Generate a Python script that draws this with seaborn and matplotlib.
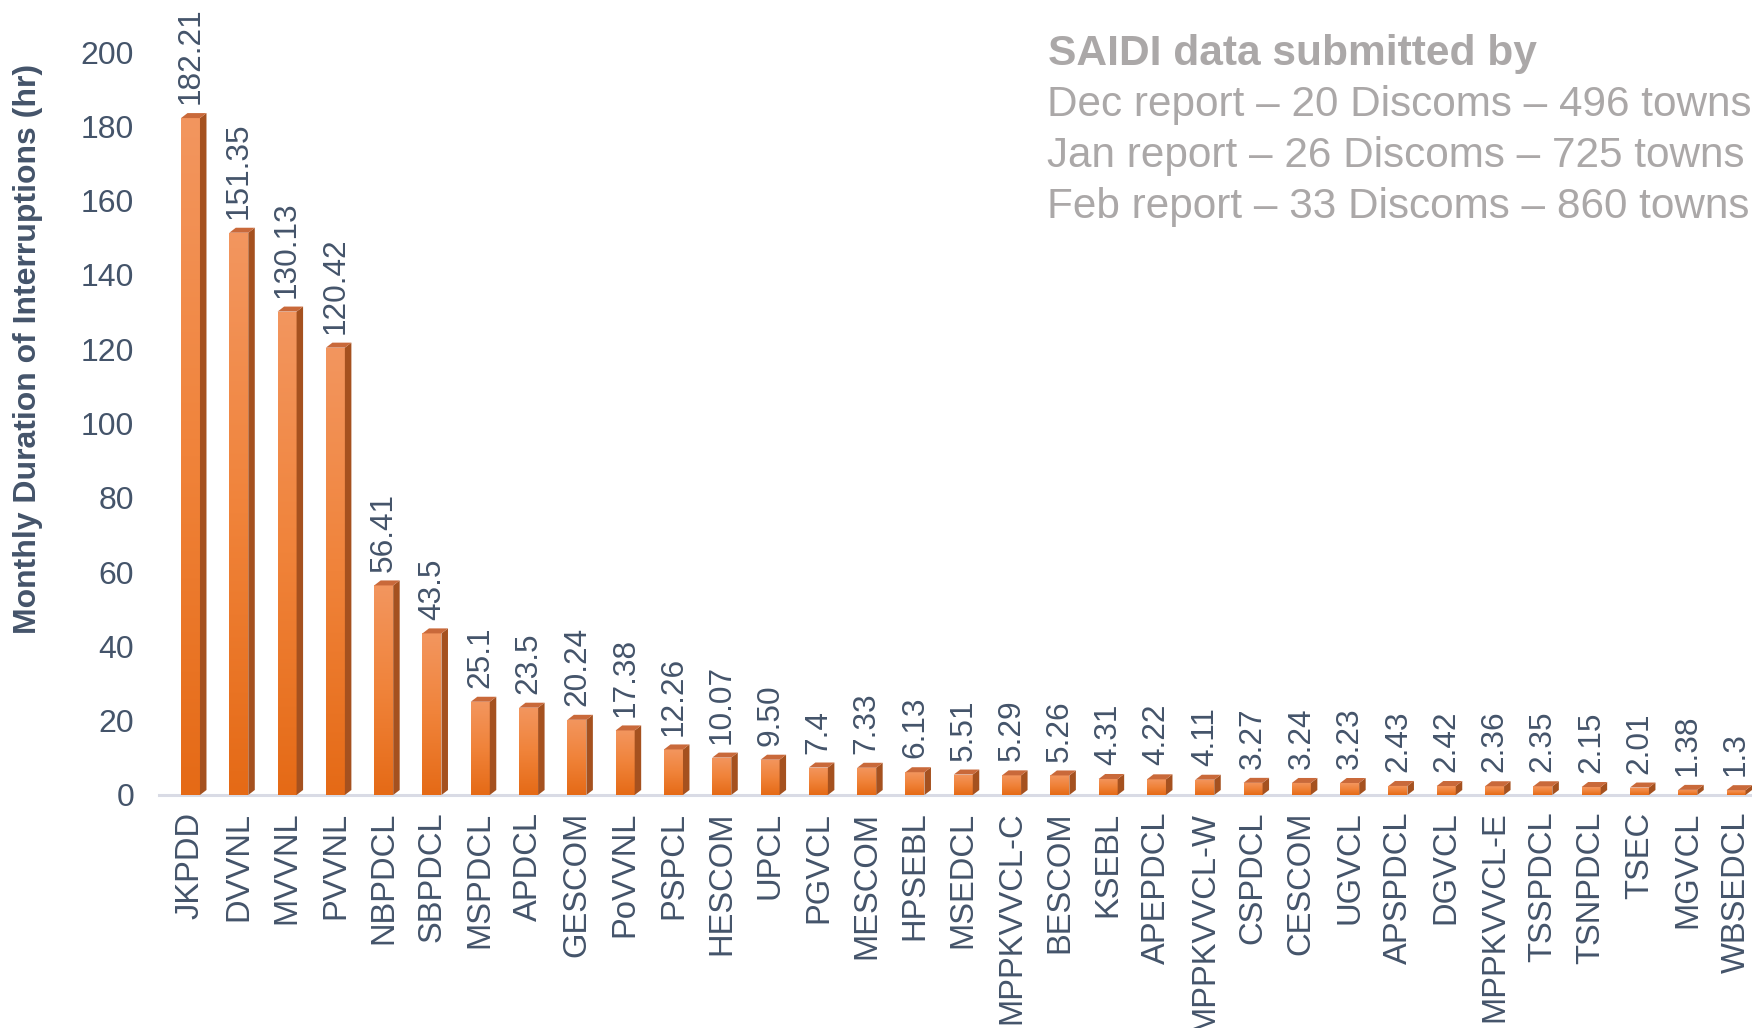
import numpy as np
import pandas as pd
import matplotlib
matplotlib.use("Agg")
import matplotlib.pyplot as plt
import seaborn as sns
from matplotlib.patches import Polygon
from matplotlib.colors import LinearSegmentedColormap

discoms = ["JKPDD", "DVVNL", "MVVNL", "PVVNL", "NBPDCL", "SBPDCL", "MSPDCL", "APDCL",
           "GESCOM", "PoVVNL", "PSPCL", "HESCOM", "UPCL", "PGVCL", "MESCOM", "HPSEBL",
           "MSEDCL", "MPPKVVCL-C", "BESCOM", "KSEBL", "APEPDCL", "MPPKVVCL-W", "CSPDCL",
           "CESCOM", "UGVCL", "APSPDCL", "DGVCL", "MPPKVVCL-E", "TSSPDCL", "TSNPDCL",
           "TSEC", "MGVCL", "WBSEDCL"]
saidi = [182.21, 151.35, 130.13, 120.42, 56.41, 43.5, 25.1, 23.5, 20.24, 17.38, 12.26,
         10.07, 9.50, 7.4, 7.33, 6.13, 5.51, 5.29, 5.26, 4.31, 4.22, 4.11, 3.27, 3.24,
         3.23, 2.43, 2.42, 2.36, 2.35, 2.15, 2.01, 1.38, 1.3]
value_labels = ["182.21", "151.35", "130.13", "120.42", "56.41", "43.5", "25.1", "23.5",
                "20.24", "17.38", "12.26", "10.07", "9.50", "7.4", "7.33", "6.13", "5.51",
                "5.29", "5.26", "4.31", "4.22", "4.11", "3.27", "3.24", "3.23", "2.43",
                "2.42", "2.36", "2.35", "2.15", "2.01", "1.38", "1.3"]
y_ticks = [0, 20, 40, 60, 80, 100, 120, 140, 160, 180, 200]
note_title = "SAIDI data submitted by"
note_lines = ["Dec report \u2013 20 Discoms \u2013 496 towns",
              "Jan report \u2013 26 Discoms \u2013 725 towns",
              "Feb report \u2013 33 Discoms \u2013 860 towns"]

sns.set_theme(style="white")
plt.rcParams['font.family'] = ['Liberation Sans', 'DejaVu Sans']

W, H = 1752, 1028
fig = plt.figure(figsize=(W / 100, H / 100), dpi=100)
ax = fig.add_axes([159 / W, 1 - 795 / H, 1 - 159 / W, (795 - 52) / H])

df = pd.DataFrame({"discom": discoms, "saidi": saidi})
text_col = "#44546A"
sns.barplot(data=df, x="discom", y="saidi", order=discoms, color="#EE7A2C",
            width=0.393, ax=ax, saturation=1, errorbar=None, zorder=2)

xlim = (-0.652, 32.33)
ylim = (0, 200)
ax.set_xlim(*xlim)
ax.set_ylim(*ylim)

# depth of pseudo-3D bars in data units
px_per_x = (W - 159) / (xlim[1] - xlim[0])
px_per_y = (795 - 52) / (ylim[1] - ylim[0])
dx = 6.5 / px_per_x
dy = 5.0 / px_per_y

grad_cmap = LinearSegmentedColormap.from_list("g", ["#E56A16", "#F0833A", "#F3965F"])
grad = np.linspace(0, 1, 256).reshape(-1, 1)

for p, lab in zip(ax.patches, value_labels):
    x0 = p.get_x()
    w = p.get_width()
    h = p.get_height()
    x1 = x0 + w
    p.set_edgecolor("none")
    im = ax.imshow(grad, extent=[x0, x1, 0, h], origin="lower", cmap=grad_cmap,
                   aspect="auto", zorder=3, interpolation="bilinear")
    im.set_clip_path(p)
    side = Polygon([(x1, 0), (x1 + dx, dy), (x1 + dx, h + dy), (x1, h)],
                   closed=True, facecolor="#A5511F", edgecolor="none", zorder=3)
    top = Polygon([(x0, h), (x0 + dx, h + dy), (x1 + dx, h + dy), (x1, h)],
                  closed=True, facecolor="#C9693A", edgecolor="none", zorder=3)
    ax.add_patch(side)
    ax.add_patch(top)
    ax.annotate(lab, (x0 + w / 2, h), xytext=(0, 10), textcoords="offset points",
                rotation=90, ha="center", va="bottom", fontsize=22.8, color=text_col,
                annotation_clip=False)

ax.set_xlim(*xlim)
ax.set_ylim(*ylim)
ax.set_yticks(y_ticks)
ax.set_xlabel("")
ax.set_ylabel("")
ax.tick_params(axis="y", length=0, pad=18, labelsize=23, labelcolor=text_col)
ax.tick_params(axis="x", length=0, pad=12, labelsize=23.6, labelcolor=text_col,
               labelrotation=90)
for s in ["top", "right", "left"]:
    ax.spines[s].set_visible(False)
ax.spines["bottom"].set_color("#D9DBE5")
ax.spines["bottom"].set_linewidth(2.2)
ax.grid(False)

fig.text(28 / W, 1 - 349 / H, "Monthly Duration of Interruptions (hr)", rotation=90,
         ha="center", va="center", fontsize=23, fontweight="bold", color=text_col,
         family=["Liberation Sans Narrow", "Liberation Sans", "DejaVu Sans"])

note_col = "#ABA8A8"
fig.text(1048 / W, 1 - 65 / H, note_title, ha="left", va="baseline", fontsize=30.6,
         fontweight="bold", color=note_col)
for i, line in enumerate(note_lines):
    fig.text(1047 / W, 1 - (116 + 51 * i) / H, line, ha="left", va="baseline",
             fontsize=30.4, color=note_col)

fig.savefig("out.png", dpi=100)
